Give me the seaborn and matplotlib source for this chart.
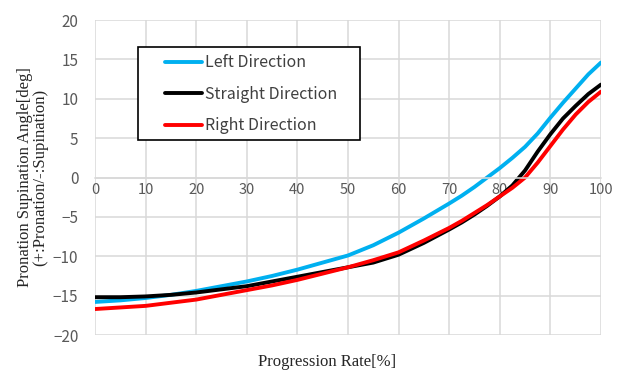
import matplotlib
matplotlib.use('Agg')
import matplotlib.pyplot as plt
from matplotlib.patches import Rectangle
import seaborn as sns
import pandas as pd

# progression rate [%]
progress = [0, 5, 10, 15, 20, 25, 30, 35, 40, 45, 50, 55, 60, 65,
            70, 72.5, 75, 77.5, 80, 82.5, 85, 87.5, 90, 92.5, 95, 97.5, 100]

left_dir = [-15.8, -15.6, -15.3, -14.9, -14.4, -13.8, -13.2, -12.5, -11.7, -10.8,
            -9.9, -8.6, -7.0, -5.2, -3.3, -2.3, -1.2, 0.0, 1.2, 2.5, 3.9, 5.6,
            7.6, 9.5, 11.3, 13.1, 14.6]
straight_dir = [-15.2, -15.2, -15.1, -14.9, -14.6, -14.2, -13.8, -13.2, -12.6, -12.0,
                -11.4, -10.8, -9.8, -8.3, -6.6, -5.7, -4.7, -3.6, -2.4, -1.0, 0.9,
                3.3, 5.5, 7.5, 9.1, 10.6, 11.8]
right_dir = [-16.7, -16.5, -16.3, -15.9, -15.5, -14.9, -14.3, -13.7, -13.0, -12.2,
             -11.4, -10.5, -9.5, -8.0, -6.4, -5.5, -4.5, -3.5, -2.4, -1.3, 0.0,
             1.9, 4.0, 6.1, 8.0, 9.6, 10.9]

series_names = ['Left Direction', 'Straight Direction', 'Right Direction']
series_colors = ['#00B0F0', '#000000', '#FF0000']

x_ticks = [0, 10, 20, 30, 40, 50, 60, 70, 80, 90, 100]
y_ticks = [-20, -15, -10, -5, 0, 5, 10, 15, 20]

df = pd.concat([
    pd.DataFrame({'rate': progress, 'angle': vals, 'direction': name})
    for name, vals in zip(series_names, [left_dir, straight_dir, right_dir])
])

sns.set_style('white')
plt.rcParams['font.family'] = ['Noto Sans CJK JP', 'DejaVu Sans']

fig = plt.figure(figsize=(6.17, 3.71), dpi=100)
ax = fig.add_axes([0.154, 0.097, 0.820, 0.849])

sns.lineplot(data=df, x='rate', y='angle', hue='direction',
             hue_order=series_names, palette=series_colors,
             linewidth=2.8, ax=ax, sort=False)

ax.set_xlim(0, 100)
ax.set_ylim(-20, 20)
ax.set_xticks(x_ticks)
ax.set_yticks(y_ticks)
ax.grid(True, color='#d9d9d9', linewidth=1.1)
ax.set_axisbelow(True)

for side in ['top', 'right', 'left']:
    ax.spines[side].set_visible(False)
ax.spines['bottom'].set_position(('data', 0))
ax.spines['bottom'].set_color('#d9d9d9')
ax.spines['bottom'].set_linewidth(1.1)

ax.tick_params(axis='x', length=0, pad=4, labelsize=10.5, labelcolor='#595959')
ax.tick_params(axis='y', length=0, pad=12, labelsize=11, labelcolor='#595959')

ax.set_xlabel('')
ax.set_ylabel('Pronation Supination Angle[deg]\n(+:Pronation/-:Supination)',
              family='Liberation Serif', fontsize=12, color='#262626',
              linespacing=1.0, labelpad=3)
fig.text(327 / 617, 1 - 362 / 371, 'Progression Rate[%]', family='Liberation Serif',
         fontsize=12, color='#262626', ha='center', va='center')

# legend box (Excel style, wide frame)
ax.add_patch(Rectangle((0.085, 0.619), 0.439, 0.295, transform=ax.transAxes,
                       facecolor='white', edgecolor='black', linewidth=1.2,
                       zorder=4))
handles, labels = ax.get_legend_handles_labels()
leg = ax.legend(handles, labels, loc='upper left',
                bbox_to_anchor=(0.138, 0.891), borderaxespad=0, borderpad=0,
                frameon=False, handlelength=2.3, handletextpad=0.2,
                labelspacing=0.9, fontsize=11.5, labelcolor='#404040')
leg.set_zorder(5)
for line in leg.get_lines():
    line.set_linewidth(2.8)

fig.savefig('out.png', dpi=100)
